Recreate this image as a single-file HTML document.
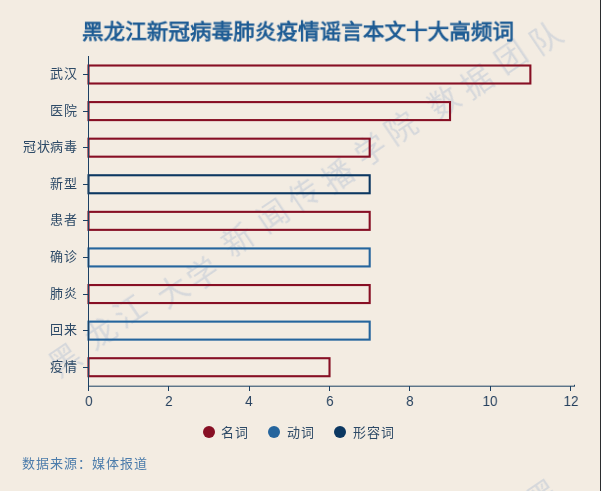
<!DOCTYPE html>
<html lang="zh-CN"><head><meta charset="utf-8">
<style>
html,body{margin:0;padding:0}
body{width:601px;height:491px;overflow:hidden;position:relative;background:#f3ece2;font-family:"Liberation Sans",sans-serif}
div{will-change:transform}
.edge{position:absolute;left:600px;top:0;width:1px;height:491px;background:#2b2d2f}
.title{position:absolute;left:0;width:595px;top:17px;text-align:center;font-size:22px;font-weight:bold;color:#1e5c94;line-height:30px;white-space:nowrap;transform:scale(0.982,0.955);transform-origin:297.5px 16px}
.yl{position:absolute;right:523.6px;font-size:13px;letter-spacing:0.7px;line-height:20px;color:#2d4a67;white-space:nowrap}
.xl{position:absolute;top:393px;width:40px;text-align:center;font-size:14px;line-height:16px;color:#243f5d;transform:scaleX(0.95)}
.li{position:absolute;top:422.6px;height:20px;font-size:13px;letter-spacing:0.8px;line-height:20px;color:#2d4a67;white-space:nowrap}
.dot{position:absolute;top:426px;width:12px;height:12px;border-radius:50%}
.src{position:absolute;left:22px;top:453.6px;font-size:13px;letter-spacing:1px;line-height:20px;color:#4c7cab;white-space:nowrap}
svg{position:absolute;left:0;top:0}
.wm{position:absolute;width:32px;height:32px;text-align:center;font-family:"Liberation Serif",serif;font-size:31px;line-height:32px;font-weight:300;color:#d6d8db;white-space:nowrap;transform:rotate(-34deg)}
</style></head><body>
<div class="wm" style="left:49px;top:345px">黑</div><div class="wm" style="left:85px;top:318px">龙</div><div class="wm" style="left:114px;top:296px">江</div><div class="wm" style="left:157px;top:276px">大</div><div class="wm" style="left:187px;top:259px">学</div><div class="wm" style="left:222px;top:225px">新</div><div class="wm" style="left:257px;top:201px">闻</div><div class="wm" style="left:288px;top:180px">传</div><div class="wm" style="left:322px;top:161px">播</div><div class="wm" style="left:355px;top:135px">学</div><div class="wm" style="left:385px;top:113px">院</div><div class="wm" style="left:428px;top:87px">数</div><div class="wm" style="left:461px;top:67px">据</div><div class="wm" style="left:495px;top:42px">团</div><div class="wm" style="left:530px;top:23px">队</div><div class="wm" style="left:527px;top:481px">黑</div>
<div class="title">黑龙江新冠病毒肺炎疫情谣言本文十大高频词</div>
<svg width="601" height="491" viewBox="0 0 601 491">
<rect x="88.5" y="65.50" width="441.87" height="18.00" fill="none" stroke="#870f24" stroke-width="2.1"/><rect x="88.5" y="102.09" width="361.53" height="18.00" fill="none" stroke="#870f24" stroke-width="2.1"/><rect x="88.5" y="138.68" width="281.19" height="18.00" fill="none" stroke="#870f24" stroke-width="2.1"/><rect x="88.5" y="175.26" width="281.19" height="18.00" fill="none" stroke="#0b3761" stroke-width="2.1"/><rect x="88.5" y="211.86" width="281.19" height="18.00" fill="none" stroke="#870f24" stroke-width="2.1"/><rect x="88.5" y="248.44" width="281.19" height="18.00" fill="none" stroke="#25659d" stroke-width="2.1"/><rect x="88.5" y="285.04" width="281.19" height="18.00" fill="none" stroke="#870f24" stroke-width="2.1"/><rect x="88.5" y="321.62" width="281.19" height="18.00" fill="none" stroke="#25659d" stroke-width="2.1"/><rect x="88.5" y="358.22" width="241.02" height="18.00" fill="none" stroke="#870f24" stroke-width="2.1"/>
<g stroke="#1b4063" stroke-width="1" fill="none">
<line x1="88.5" y1="56" x2="88.5" y2="386"/>
<line x1="88" y1="386.2" x2="575" y2="386.2" stroke-width="1"/><line x1="574.5" y1="386" x2="574.5" y2="384.8" stroke-width="1"/>
<line x1="83" y1="74.5" x2="88" y2="74.5"/><line x1="83" y1="111.5" x2="88" y2="111.5"/><line x1="83" y1="147.5" x2="88" y2="147.5"/><line x1="83" y1="184.5" x2="88" y2="184.5"/><line x1="83" y1="220.5" x2="88" y2="220.5"/><line x1="83" y1="257.5" x2="88" y2="257.5"/><line x1="83" y1="294.5" x2="88" y2="294.5"/><line x1="83" y1="330.5" x2="88" y2="330.5"/><line x1="83" y1="367.5" x2="88" y2="367.5"/>
<line x1="88.5" y1="386" x2="88.5" y2="391"/><line x1="168.5" y1="386" x2="168.5" y2="391"/><line x1="249.5" y1="386" x2="249.5" y2="391"/><line x1="329.5" y1="386" x2="329.5" y2="391"/><line x1="409.5" y1="386" x2="409.5" y2="391"/><line x1="490.5" y1="386" x2="490.5" y2="391"/><line x1="570.5" y1="386" x2="570.5" y2="391"/>
</g>
</svg>
<div class="yl" style="top:64.09px">武汉</div><div class="yl" style="top:100.69px">医院</div><div class="yl" style="top:137.28px">冠状病毒</div><div class="yl" style="top:173.86px">新型</div><div class="yl" style="top:210.46px">患者</div><div class="yl" style="top:247.04px">确诊</div><div class="yl" style="top:283.64px">肺炎</div><div class="yl" style="top:320.23px">回来</div><div class="yl" style="top:356.82px">疫情</div>
<div class="xl" style="left:68.50px">0</div><div class="xl" style="left:148.84px">2</div><div class="xl" style="left:229.18px">4</div><div class="xl" style="left:309.52px">6</div><div class="xl" style="left:389.86px">8</div><div class="xl" style="left:470.20px">10</div><div class="xl" style="left:550.54px">12</div>
<div class="dot" style="left:203px;background:#870f24"></div><div class="li" style="left:220.5px">名词</div>
<div class="dot" style="left:268px;background:#25659d"></div><div class="li" style="left:286.5px">动词</div>
<div class="dot" style="left:334px;background:#0b3761"></div><div class="li" style="left:352.5px">形容词</div>
<div class="src">数据来源：媒体报道</div>
<div class="edge"></div>
</body></html>
